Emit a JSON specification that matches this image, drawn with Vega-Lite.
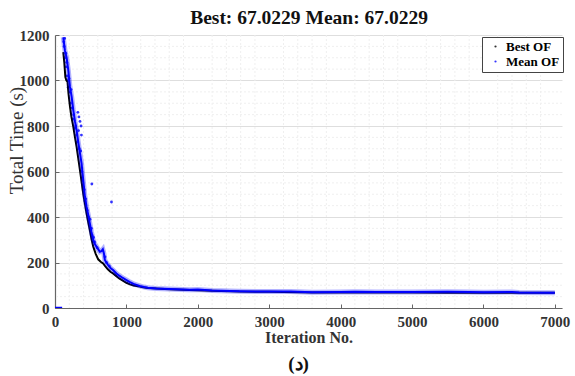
{
  "$schema": "https://vega.github.io/schema/vega-lite/v6.json",
  "autosize": "none",
  "width": 507,
  "height": 273,
  "padding": {"left": 55, "top": 35, "right": 13, "bottom": 68},
  "background": "white",
  "title": {
    "text": "(د)",
    "orient": "bottom",
    "font": "Liberation Serif",
    "fontSize": 19,
    "fontWeight": "bold",
    "color": "#111",
    "offset": 10,
    "dx": -10
  },
  "config": {
    "view": {"stroke": null},
    "axis": {
      "labelFont": "Liberation Serif",
      "labelFontSize": 15,
      "labelFontWeight": "bold",
      "labelColor": "#333",
      "titleFont": "Liberation Serif",
      "titleFontSize": 16,
      "titleFontWeight": "bold",
      "titleColor": "#333",
      "domainColor": "#666",
      "domainWidth": 1.2,
      "tickColor": "#666",
      "tickSize": -4,
      "gridColor": "#dedede",
      "gridWidth": 1
    }
  },
  "datasets": {
    "best": [
      {"iter": 116, "value": 1125}, {"iter": 130, "value": 1080}, {"iter": 145, "value": 1015},
      {"iter": 160, "value": 1000}, {"iter": 175, "value": 995}, {"iter": 190, "value": 940},
      {"iter": 210, "value": 885}, {"iter": 230, "value": 840}, {"iter": 256, "value": 797},
      {"iter": 280, "value": 750}, {"iter": 302, "value": 709}, {"iter": 325, "value": 660},
      {"iter": 349, "value": 607}, {"iter": 372, "value": 555}, {"iter": 395, "value": 504},
      {"iter": 420, "value": 458}, {"iter": 442, "value": 416}, {"iter": 465, "value": 378},
      {"iter": 488, "value": 343}, {"iter": 510, "value": 305}, {"iter": 535, "value": 270},
      {"iter": 570, "value": 238}, {"iter": 605, "value": 214}, {"iter": 640, "value": 203},
      {"iter": 674, "value": 196}, {"iter": 700, "value": 185}, {"iter": 740, "value": 170},
      {"iter": 780, "value": 158}, {"iter": 813, "value": 152}, {"iter": 860, "value": 140},
      {"iter": 900, "value": 130}, {"iter": 950, "value": 120}, {"iter": 1000, "value": 111},
      {"iter": 1050, "value": 104}, {"iter": 1100, "value": 99}, {"iter": 1186, "value": 94},
      {"iter": 1250, "value": 90}, {"iter": 1300, "value": 88}, {"iter": 1418, "value": 86},
      {"iter": 1600, "value": 82}, {"iter": 1883, "value": 79}, {"iter": 2200, "value": 76},
      {"iter": 2580, "value": 72}, {"iter": 3000, "value": 71}, {"iter": 3600, "value": 68},
      {"iter": 4000, "value": 68}, {"iter": 4500, "value": 68}, {"iter": 5000, "value": 68},
      {"iter": 5500, "value": 67.5}, {"iter": 6000, "value": 67.2}, {"iter": 6500, "value": 67.1},
      {"iter": 7000, "value": 67.0}
    ],
    "mean": [
      {"iter": 116, "value": 1190}, {"iter": 140, "value": 1130}, {"iter": 163, "value": 1100},
      {"iter": 186, "value": 1046}, {"iter": 209, "value": 973}, {"iter": 233, "value": 929},
      {"iter": 256, "value": 870}, {"iter": 280, "value": 820}, {"iter": 302, "value": 782},
      {"iter": 330, "value": 720}, {"iter": 350, "value": 680}, {"iter": 372, "value": 636},
      {"iter": 395, "value": 563}, {"iter": 419, "value": 489}, {"iter": 442, "value": 445},
      {"iter": 465, "value": 410}, {"iter": 488, "value": 372}, {"iter": 510, "value": 335},
      {"iter": 535, "value": 299}, {"iter": 560, "value": 280}, {"iter": 581, "value": 270},
      {"iter": 605, "value": 258}, {"iter": 628, "value": 247}, {"iter": 650, "value": 250},
      {"iter": 670, "value": 258}, {"iter": 685, "value": 240}, {"iter": 698, "value": 211},
      {"iter": 740, "value": 190}, {"iter": 780, "value": 175}, {"iter": 813, "value": 167},
      {"iter": 860, "value": 152}, {"iter": 900, "value": 142}, {"iter": 950, "value": 132},
      {"iter": 1000, "value": 123}, {"iter": 1050, "value": 114}, {"iter": 1100, "value": 106},
      {"iter": 1186, "value": 97}, {"iter": 1250, "value": 92}, {"iter": 1300, "value": 89},
      {"iter": 1418, "value": 86}, {"iter": 1600, "value": 83}, {"iter": 1883, "value": 80},
      {"iter": 2000, "value": 81}, {"iter": 2200, "value": 77}, {"iter": 2580, "value": 74},
      {"iter": 3000, "value": 72}, {"iter": 3300, "value": 72}, {"iter": 3600, "value": 69},
      {"iter": 4000, "value": 70}, {"iter": 4200, "value": 71}, {"iter": 4500, "value": 70},
      {"iter": 5000, "value": 70}, {"iter": 5500, "value": 71}, {"iter": 5800, "value": 70},
      {"iter": 6000, "value": 69}, {"iter": 6400, "value": 70}, {"iter": 6500, "value": 68},
      {"iter": 7000, "value": 67.0}
    ],
    "meanScatter": [
      {"iter": 118, "value": 1205}, {"iter": 122, "value": 1170}, {"iter": 128, "value": 1150},
      {"iter": 135, "value": 1185}, {"iter": 140, "value": 1100}, {"iter": 150, "value": 1120},
      {"iter": 155, "value": 1060}, {"iter": 165, "value": 1080}, {"iter": 170, "value": 1020},
      {"iter": 178, "value": 1000}, {"iter": 185, "value": 970}, {"iter": 195, "value": 1010},
      {"iter": 205, "value": 950}, {"iter": 215, "value": 900}, {"iter": 225, "value": 960},
      {"iter": 240, "value": 880}, {"iter": 250, "value": 830}, {"iter": 262, "value": 850},
      {"iter": 275, "value": 790}, {"iter": 290, "value": 800}, {"iter": 305, "value": 760},
      {"iter": 315, "value": 730}, {"iter": 320, "value": 860}, {"iter": 335, "value": 840},
      {"iter": 350, "value": 820}, {"iter": 365, "value": 800}, {"iter": 330, "value": 780},
      {"iter": 370, "value": 760}, {"iter": 340, "value": 700}, {"iter": 360, "value": 690},
      {"iter": 375, "value": 600}, {"iter": 385, "value": 560}, {"iter": 400, "value": 530},
      {"iter": 410, "value": 520}, {"iter": 420, "value": 470}, {"iter": 430, "value": 480},
      {"iter": 450, "value": 430}, {"iter": 470, "value": 400}, {"iter": 490, "value": 390},
      {"iter": 510, "value": 350}, {"iter": 520, "value": 320}, {"iter": 540, "value": 310},
      {"iter": 555, "value": 290}, {"iter": 590, "value": 265}, {"iter": 516, "value": 545},
      {"iter": 791, "value": 466}, {"iter": 700, "value": 225}, {"iter": 720, "value": 200},
      {"iter": 760, "value": 185}
    ],
    "start": [
      {"iter": 0, "value": 0}, {"iter": 100, "value": 0}
    ],
    "xminor": [
      {"g": 200}, {"g": 400}, {"g": 600}, {"g": 800},
      {"g": 1200}, {"g": 1400}, {"g": 1600}, {"g": 1800},
      {"g": 2200}, {"g": 2400}, {"g": 2600}, {"g": 2800},
      {"g": 3200}, {"g": 3400}, {"g": 3600}, {"g": 3800},
      {"g": 4200}, {"g": 4400}, {"g": 4600}, {"g": 4800},
      {"g": 5200}, {"g": 5400}, {"g": 5600}, {"g": 5800},
      {"g": 6200}, {"g": 6400}, {"g": 6600}, {"g": 6800}
    ],
    "yminor": [
      {"g": 50}, {"g": 100}, {"g": 150}, {"g": 250}, {"g": 300}, {"g": 350},
      {"g": 450}, {"g": 500}, {"g": 550}, {"g": 650}, {"g": 700}, {"g": 750},
      {"g": 850}, {"g": 900}, {"g": 950}, {"g": 1050}, {"g": 1100}, {"g": 1150}
    ]
  },
  "resolve": {"scale": {"x": "independent"}, "axis": {"x": "independent"}},
  "layer": [
    {
      "data": {"name": "xminor"},
      "mark": {"type": "rule", "color": "#efefef", "strokeDash": [2, 2], "strokeWidth": 1},
      "encoding": {
        "x": {
          "field": "g", "type": "quantitative",
          "scale": {"domain": [0, 7100], "nice": false, "zero": false},
          "axis": {
            "orient": "top",
            "title": "Best: 67.0229 Mean: 67.0229",
            "titleFontSize": 19.5,
            "titleColor": "#111",
            "titlePadding": 8,
            "labels": false,
            "ticks": false,
            "domain": false,
            "grid": false
          }
        }
      }
    },
    {
      "layer": [
        {
          "data": {"name": "yminor"},
          "mark": {"type": "rule", "color": "#efefef", "strokeDash": [2, 2], "strokeWidth": 1},
          "encoding": {"y": {"field": "g", "type": "quantitative"}}
        },
        {
          "data": {"name": "meanScatter"},
          "transform": [{"calculate": "'Mean OF'", "as": "series"}],
          "mark": {"type": "point", "filled": true, "size": 8, "opacity": 0.8, "clip": true},
          "encoding": {
            "x": {
              "field": "iter", "type": "quantitative",
              "scale": {"domain": [0, 7100], "nice": false, "zero": false},
              "axis": {
                "values": [0, 1000, 2000, 3000, 4000, 5000, 6000, 7000],
                "format": "d",
                "title": "Iteration No.",
                "titlePadding": 0,
                "labelPadding": 10,
                "labelFlush": false
              }
            },
            "y": {
              "field": "value", "type": "quantitative",
              "scale": {"domain": [0, 1200], "nice": false},
              "axis": {
                "values": [0, 200, 400, 600, 800, 1000, 1200],
                "format": "d",
                "title": "Total Time (s)",
                "titleFontWeight": "normal",
                "titleFontSize": 19,
                "titleX": -29,
                "titleY": 105,
                "labelPadding": 10
              }
            },
            "color": {
              "field": "series", "type": "nominal",
              "scale": {"domain": ["Best OF", "Mean OF"], "range": ["#000000", "#0000ff"]},
              "legend": {
                "title": null,
                "orient": "none",
                "legendX": 427,
                "legendY": 2,
                "strokeColor": "#444",
                "fillColor": "white",
                "padding": 3,
                "symbolType": "circle",
                "symbolSize": 5,
                "symbolStrokeWidth": 0,
                "symbolOffset": 4,
                "labelFont": "Liberation Serif",
                "labelFontSize": 13,
                "labelFontWeight": "bold",
                "labelColor": "#000",
                "labelOffset": 4,
                "rowPadding": 1
              }
            }
          }
        },
        {
          "data": {"name": "best"},
          "transform": [{"calculate": "'Best OF'", "as": "series"}],
          "mark": {"type": "line", "strokeWidth": 2, "clip": true},
          "encoding": {
            "x": {"field": "iter", "type": "quantitative"},
            "y": {"field": "value", "type": "quantitative"},
            "color": {"field": "series", "type": "nominal"}
          }
        },
        {
          "data": {"name": "mean"},
          "transform": [{"calculate": "'Mean OF'", "as": "series"}],
          "mark": {"type": "line", "strokeWidth": 5, "opacity": 0.3, "clip": true},
          "encoding": {
            "x": {"field": "iter", "type": "quantitative"},
            "y": {"field": "value", "type": "quantitative"},
            "color": {"field": "series", "type": "nominal"}
          }
        },
        {
          "data": {"name": "mean"},
          "transform": [{"calculate": "'Mean OF'", "as": "series"}],
          "mark": {"type": "line", "strokeWidth": 2, "clip": true},
          "encoding": {
            "x": {"field": "iter", "type": "quantitative"},
            "y": {"field": "value", "type": "quantitative"},
            "color": {"field": "series", "type": "nominal"}
          }
        },
        {
          "data": {"name": "start"},
          "transform": [{"calculate": "'Mean OF'", "as": "series"}],
          "mark": {"type": "line", "strokeWidth": 2.5, "clip": true},
          "encoding": {
            "x": {"field": "iter", "type": "quantitative"},
            "y": {"field": "value", "type": "quantitative"},
            "color": {"field": "series", "type": "nominal"}
          }
        }
      ]
    }
  ]
}
